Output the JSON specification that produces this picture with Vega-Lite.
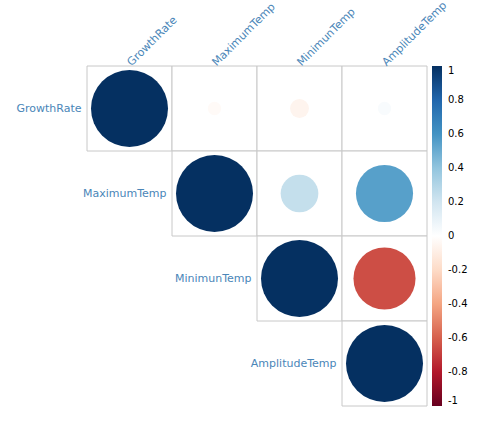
{
  "$schema": "https://vega.github.io/schema/vega-lite/v6.json",
  "autosize": {"type": "none"},
  "padding": {"left": 87, "top": 66, "right": 65, "bottom": 16},
  "width": 340,
  "height": 340,
  "background": "white",
  "config": {"view": {"stroke": null}, "font": "DejaVu Sans"},
  "datasets": {
    "corr": [
      {"row": "GrowthRate", "col": "GrowthRate", "r": 1},
      {"row": "GrowthRate", "col": "MaximumTemp", "r": -0.03},
      {"row": "GrowthRate", "col": "MinimunTemp", "r": -0.06},
      {"row": "GrowthRate", "col": "AmplitudeTemp", "r": 0.03},
      {"row": "MaximumTemp", "col": "MaximumTemp", "r": 1},
      {"row": "MaximumTemp", "col": "MinimunTemp", "r": 0.24},
      {"row": "MaximumTemp", "col": "AmplitudeTemp", "r": 0.55},
      {"row": "MinimunTemp", "col": "MinimunTemp", "r": 1},
      {"row": "MinimunTemp", "col": "AmplitudeTemp", "r": -0.65},
      {"row": "AmplitudeTemp", "col": "AmplitudeTemp", "r": 1}
    ],
    "vars": [
      {"name": "GrowthRate"},
      {"name": "MaximumTemp"},
      {"name": "MinimunTemp"},
      {"name": "AmplitudeTemp"}
    ]
  },
  "layer": [
    {
      "data": {"name": "corr"},
      "mark": {"type": "rect", "fill": "white", "stroke": "#c8c8c8", "strokeWidth": 1},
      "encoding": {
        "x": {"field": "col", "type": "nominal", "sort": ["GrowthRate","MaximumTemp","MinimunTemp","AmplitudeTemp"],
              "scale": {"domain": ["GrowthRate","MaximumTemp","MinimunTemp","AmplitudeTemp"], "paddingInner": 0, "paddingOuter": 0},
              "axis": {"orient": "top", "title": null, "domain": false, "ticks": false, "labelAngle": -45, "labelAlign": "left", "labelBaseline": "middle", "labelPadding": 2, "labelFontSize": 11, "labelColor": "#4a86b8", "labelFont": "DejaVu Sans"}},
        "y": {"field": "row", "type": "nominal",
              "scale": {"domain": ["GrowthRate","MaximumTemp","MinimunTemp","AmplitudeTemp"], "paddingInner": 0, "paddingOuter": 0},
              "axis": null}
      }
    },
    {
      "data": {"name": "corr"},
      "transform": [{"calculate": "abs(datum.r)", "as": "absr"}],
      "mark": {"type": "circle", "opacity": 1, "strokeWidth": 0},
      "encoding": {
        "x": {"field": "col", "type": "nominal"},
        "y": {"field": "row", "type": "nominal"},
        "size": {"field": "absr", "type": "quantitative", "scale": {"domain": [0, 1], "range": [0, 5929], "zero": true}, "legend": null},
        "color": {"field": "r", "type": "quantitative",
                  "scale": {"domain": [-1, -0.8, -0.6, -0.4, -0.2, 0, 0.2, 0.4, 0.6, 0.8, 1], "interpolate": "rgb",
                            "range": ["#67001F","#B2182B","#D6604D","#F4A582","#FDDBC7","#FFFFFF","#D1E5F0","#92C5DE","#4393C3","#2166AC","#053061"]},
                  "legend": {"orient": "none", "legendX": 345, "legendY": 0, "direction": "vertical", "title": null,
                             "gradientLength": 340, "gradientThickness": 10, "gradientStrokeWidth": 0,
                             "values": [-1, -0.8, -0.6, -0.4, -0.2, 0, 0.2, 0.4, 0.6, 0.8, 1],
                             "labelExpr": "datum.value + ''", "labelFontSize": 10, "labelColor": "#000", "labelOffset": 6, "labelOverlap": false, "labelFont": "DejaVu Sans",
                             "encode": {"labels": {"baseline": {"value": "middle"}}}}}
      }
    },
    {
      "data": {"name": "vars"},
      "mark": {"type": "text", "align": "right", "baseline": "middle", "dx": -48, "fontSize": 11, "color": "#4a86b8", "font": "DejaVu Sans"},
      "encoding": {
        "x": {"field": "name", "type": "nominal"},
        "y": {"field": "name", "type": "nominal"},
        "text": {"field": "name"}
      }
    }
  ]
}
